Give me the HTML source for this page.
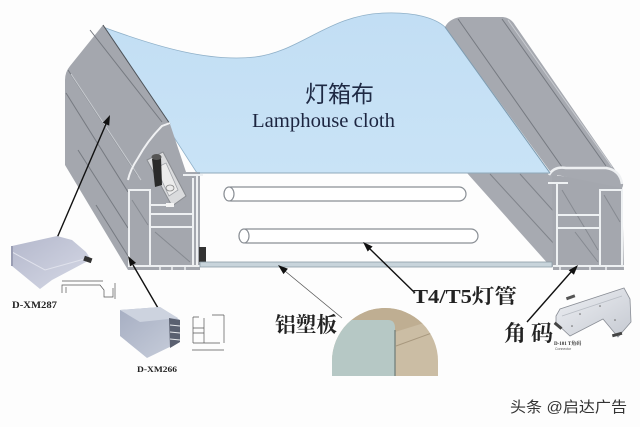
<!DOCTYPE html>
<html><head><meta charset="utf-8"><style>
html,body{margin:0;padding:0;background:#fff;}
svg{display:block;}
</style></head><body>
<svg width="640" height="427" viewBox="0 0 640 427" xmlns="http://www.w3.org/2000/svg">
<defs>
<linearGradient id="cl" x1="0" y1="0" x2="0" y2="1"><stop offset="0" stop-color="#c2def4"/><stop offset="1" stop-color="#c9e3f6"/></linearGradient>
<linearGradient id="p287" x1="0" y1="0" x2="1" y2="1"><stop offset="0" stop-color="#b4b8cc"/><stop offset="1" stop-color="#d6d9e6"/></linearGradient>
<linearGradient id="p266" x1="0" y1="0" x2="1" y2="1"><stop offset="0" stop-color="#a6aec2"/><stop offset="1" stop-color="#c8cedb"/></linearGradient>
<linearGradient id="br" x1="0" y1="0" x2="1" y2="1"><stop offset="0" stop-color="#eef0f4"/><stop offset="1" stop-color="#c6cad2"/></linearGradient>
<clipPath id="disk"><path d="M332,376 L332,361 A53,53 0 0 1 438,361 L438,376 Z"/></clipPath>
</defs>
<rect width="640" height="427" fill="#fdfdfd"/>

<!-- cloth -->
<path d="M103,27 C160,48 210,62 255,57 C300,52 330,14 385,13 C415,12 435,18 445,27 L550,173 L197,173 Z" fill="url(#cl)" stroke="#8fb0c8" stroke-width="0.8"/>

<!-- tubes -->
<rect x="224" y="187" width="242" height="14" rx="7" fill="#fff" stroke="#8a8f95" stroke-width="1.2"/>
<ellipse cx="229" cy="194" rx="5" ry="7" fill="#fff" stroke="#8a8f95" stroke-width="1.2"/>
<rect x="239" y="229" width="239" height="14" rx="7" fill="#fff" stroke="#8a8f95" stroke-width="1.2"/>
<ellipse cx="244" cy="236" rx="5" ry="7" fill="#fff" stroke="#8a8f95" stroke-width="1.2"/>

<!-- right side wall -->
<path d="M467,173 L557,173 L557,268 L550,266 Z" fill="#a7aab1"/>
<path d="M490,174 L556,246 M520,174 L556,214" stroke="#80848b" stroke-width="1" fill="none"/>
<!-- right profile -->
<path d="M552,175 L622,183 L624,270 L553,270 Z" fill="#a4a7ae"/>
<path d="M562,190 L598,250 M575,232 L598,262 M604,195 L620,222" stroke="#868a91" stroke-width="1" fill="none"/>
<g stroke="#eef1f3" stroke-width="2" fill="none">
<path d="M557,183 L557,266"/>
<path d="M548,183 L568,183"/>
<rect x="600" y="190" width="22" height="76"/>
<path d="M557,215 L600,215 M557,228 L600,228"/>
<path d="M553,266 L624,266"/>
</g>
<path d="M560,266 L560,270 M575,266 L575,270 M590,266 L590,270 M606,266 L606,270" stroke="#eef1f3" stroke-width="1.5"/>
<!-- right cap -->
<path d="M445,27 Q449,19 460,17 L503,17 Q511,18 515,25 L620,177 Q625,184 622,188 L552,174 Z" fill="#a6a9b0"/>
<path d="M458,19 L562,167 M502,19 L606,166" stroke="#767a81" stroke-width="1" fill="none"/>
<path d="M508,20 L612,167" stroke="#c8cbd0" stroke-width="1" fill="none"/>
<path d="M549,175 Q554,166 566,168 L606,168 Q620,170 622,184" stroke="#eef0f2" stroke-width="2.5" fill="none"/>
<path d="M445,27 L550,173" stroke="#7f9cb0" stroke-width="1" fill="none"/>

<!-- left frame -->
<path d="M103,25 L70,66 Q65,72 65,80 L65,165 L128,270 L200,270 L200,172 L186,172 L170,124 Z" fill="#a4a7ae"/>
<g stroke="#767a81" stroke-width="1" fill="none">
<path d="M90,30 L162,122"/>
<path d="M68,70 L138,176"/>
<path d="M66,93 L128,192"/>
<path d="M78,150 L128,228"/>
<path d="M96,205 L128,256"/>
</g>
<path d="M71,74 L141,180" stroke="#c9ccd1" stroke-width="1" fill="none"/>
<path d="M103,25 L170,124" stroke="#4d5258" stroke-width="1" fill="none"/>
<path d="M170,123 L162,126 Q148,140 138,158 Q130,170 128,180" stroke="#f0f1f3" stroke-width="2" fill="none"/>
<!-- bracket & screw -->
<path d="M147,160 L163,152 L186,196 L172,206 Z" fill="#dadbdd" stroke="#8a8d92" stroke-width="1"/>
<path d="M156,168 L166,163 L178,190 L169,196 Z" fill="#ececec" stroke="#a0a3a8" stroke-width="0.8"/>
<ellipse cx="170" cy="188" rx="4" ry="3" fill="none" stroke="#888" stroke-width="0.8"/>
<path d="M152,159 L161,157 L162,185 L155,187 Z" fill="#2a2a2a"/>
<ellipse cx="156.5" cy="157" rx="5" ry="3" fill="#555"/>
<!-- left profile -->
<g stroke="#eef0f2" stroke-width="2" fill="none">
<rect x="129" y="190" width="21" height="76"/>
<path d="M150,190 L150,266 M193,178 L193,266 M150,214 L193,214 M150,227 L193,227 M150,205 L172,205"/>
<path d="M183,175 L203,175 M197,175 L197,266"/>
<path d="M128,266 L200,266"/>
</g>
<path d="M160,266 L160,270 M172,266 L172,270 M185,266 L185,270" stroke="#eef0f2" stroke-width="1.5"/>
<rect x="166" y="203" width="8" height="4" fill="#f4f4f4"/>
<path d="M155,232 L190,262 M132,200 L148,225" stroke="#868a91" stroke-width="1"/>
<rect x="199" y="247" width="7" height="15" fill="#333"/>

<!-- board -->
<rect x="200" y="262" width="352" height="5" fill="#c8d4db" stroke="#8c9ca6" stroke-width="0.8"/>
<path d="M197,173 L550,173" stroke="#8fa9bb" stroke-width="1"/>

<!-- arrows -->
<g stroke="#111" stroke-width="1.4">
<path d="M57,238 L106,124"/>
<path d="M158,308 L133,265"/>
<path d="M415,293 L370,249"/>
<path d="M527,322 L571,272"/>
</g>
<path d="M342,318 L285,271" stroke="#555" stroke-width="0.8"/>
<g fill="#111">
<polygon points="110,115 109.2,125.6 102.8,122.8"/>
<polygon points="128,256 136,262.9 130,266.4"/>
<polygon points="278,265 287.9,268.7 283.5,274.1"/>
<polygon points="363,242 372.6,246.5 367.7,251.5"/>
<polygon points="578,265 573.9,274.8 568.7,270.2"/>
</g>

<!-- D-XM287 piece -->
<path d="M12,246 L57,236 L72,240 L86,252 L90,258 L86,262 L52,280 L40,289 L12,266 Z" fill="url(#p287)"/>
<path d="M12,252 L45,270 L88,258" stroke="#e0e2ec" stroke-width="1" fill="none"/>
<path d="M12,246 L12,266" stroke="#9a9eb4" stroke-width="2"/>
<rect x="84" y="257" width="8" height="5" fill="#333" transform="rotate(20 88 259)"/>
<g stroke="#555" stroke-width="0.7" fill="none">
<path d="M62,293 L62,285 L100,285 L104,290 L104,297 L113,297 L113,288"/>
<path d="M62,281 L103,281 M115,283 L115,299 M66,287 L66,293"/>
</g>
<text x="12" y="308" font-family="Liberation Serif, serif" font-weight="bold" font-size="9" fill="#222" textLength="45" lengthAdjust="spacingAndGlyphs">D-XM287</text>

<!-- D-XM266 piece -->
<path d="M120,310 L160,307 L180,320 L180,342 L147,358 L120,336 Z" fill="url(#p266)"/>
<path d="M120,310 L160,307 L178,318 L140,322 Z" fill="#cdd3df"/>
<path d="M169,318 L180,320 L180,342 L170,348 Z" fill="#5a6070"/>
<path d="M170,325 L180,326 M170,332 L180,333 M170,339 L180,340" stroke="#e6e8ec" stroke-width="1"/>
<g stroke="#555" stroke-width="0.7" fill="none">
<path d="M193,317 L193,343 M204,318 L204,343 M193,328 L204,328 M193,333 L204,333 M193,343 L220,343"/>
<path d="M193,317 L199,317 M212,315 L224,315 M224,315 L224,343 M192,350 L224,350"/>
</g>
<text x="137" y="372" font-family="Liberation Serif, serif" font-weight="bold" font-size="8" fill="#222" textLength="40" lengthAdjust="spacingAndGlyphs">D-XM266</text>

<!-- photo disk -->
<g clip-path="url(#disk)">
<rect x="330" y="300" width="110" height="80" fill="#cbbda4"/>
<path d="M330,300 L440,300 L440,318 L395,332 L330,318 Z" fill="#bfae92"/>
<path d="M330,320 L388,320 Q395,320 395,328 L395,380 L330,380 Z" fill="#b6c8c5"/>
<path d="M395,330 L395,380" stroke="#6d7b78" stroke-width="1.2"/>
<path d="M396,346 L440,330" stroke="#a8987e" stroke-width="1"/>
</g>

<!-- corner bracket -->
<path d="M556,316 L560,309 L624,288 L630,299 L631,322 L618,337 L603,319 L570,336 L556,323 Z" fill="url(#br)" stroke="#8a8e96" stroke-width="0.8"/>
<path d="M562,316 L622,296" stroke="#b8bcc4" stroke-width="0.8"/>
<rect x="566" y="296" width="9" height="3" fill="#555" transform="rotate(-20 570 297)"/>
<rect x="554" y="324" width="9" height="3" fill="#444" transform="rotate(40 558 325)"/>
<rect x="612" y="333" width="10" height="3" fill="#444" transform="rotate(-15 617 334)"/>
<circle cx="580" cy="314" r="0.8" fill="#666"/><circle cx="600" cy="306" r="0.8" fill="#666"/><circle cx="615" cy="320" r="0.8" fill="#666"/><circle cx="572" cy="326" r="0.8" fill="#666"/>

<!-- labels -->
<text x="305" y="102" font-family="Liberation Sans, Noto Sans CJK SC, sans-serif" font-size="23" fill="#1f2a44">灯箱布</text>
<text x="252" y="127" font-family="Liberation Serif, serif" font-size="20.5" fill="#1c2540" textLength="143" lengthAdjust="spacingAndGlyphs">Lamphouse cloth</text>
<text x="275" y="332" font-family="Liberation Serif, Noto Serif CJK SC, serif" font-weight="bold" font-size="21" fill="#222" textLength="62" lengthAdjust="spacingAndGlyphs">铝塑板</text>
<text x="413" y="303" font-family="Liberation Serif, Noto Serif CJK SC, serif" font-weight="bold" font-size="20" fill="#222" textLength="104" lengthAdjust="spacingAndGlyphs">T4/T5灯管</text>
<text x="504" y="341" font-family="Liberation Serif, Noto Serif CJK SC, serif" font-weight="bold" font-size="22" fill="#222">角</text>
<text x="531" y="341" font-family="Liberation Serif, Noto Serif CJK SC, serif" font-weight="bold" font-size="22" fill="#222">码</text>
<text x="554" y="345" font-family="Liberation Serif, Noto Serif CJK SC, serif" font-weight="bold" font-size="5" fill="#333">D-101  T角码</text>
<text x="555" y="350" font-family="Liberation Sans, sans-serif" font-size="3.5" fill="#555">Connector</text>
<text x="510" y="412" font-family="Liberation Sans, Noto Sans CJK SC, sans-serif" font-size="15" fill="#333" textLength="117" lengthAdjust="spacingAndGlyphs">头条 @启达广告</text>
</svg>
</body></html>
